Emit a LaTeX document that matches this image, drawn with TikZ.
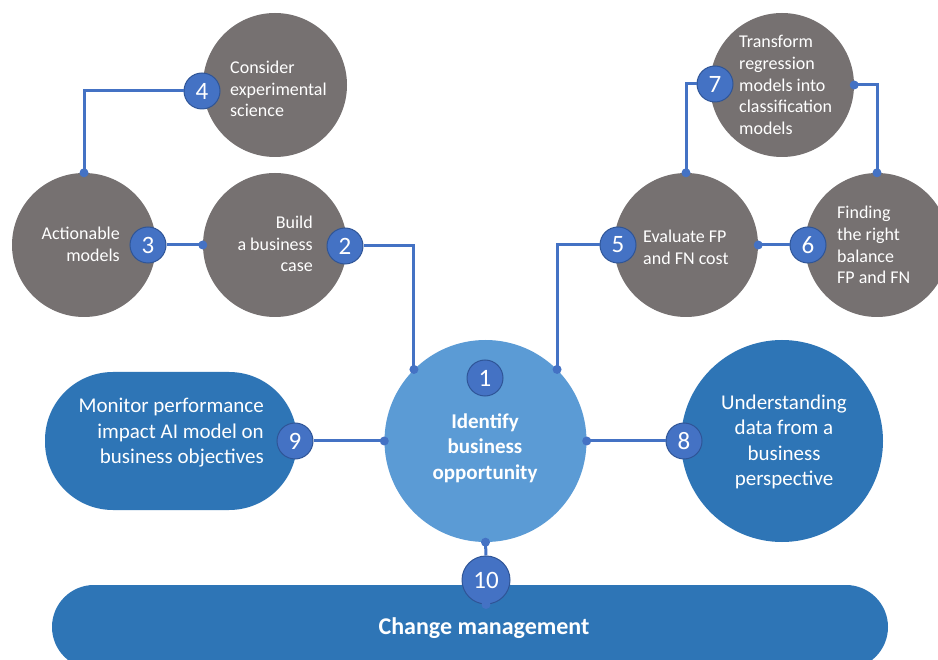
\documentclass[tikz,border=0pt]{standalone}
\usepackage{fontspec}
\setmainfont{Carlito}
\begin{document}
\begin{tikzpicture}[x=1pt,y=-1pt,
  graycirc/.style={circle,fill=cgray,minimum size=144pt,inner sep=0pt},
  bigcirc/.style={circle,minimum size=202pt,inner sep=0pt},
  badge/.style={circle,fill=cbadge,draw=cborder,line width=1pt,minimum size=36pt,inner sep=0pt,text=white,font=\fontsize{25}{26}\selectfont},
  conn/.style={draw=cline,line width=3pt},
  dot/.style={fill=cline},
  gtext/.style={text=white,inner sep=0pt,font=\fontsize{18}{21.7}\selectfont},
  btext/.style={text=white,inner sep=0pt,font=\fontsize{21}{25.5}\selectfont}]
\definecolor{cgray}{HTML}{767171}
\definecolor{clight}{HTML}{5B9BD5}
\definecolor{cdark}{HTML}{2E75B6}
\definecolor{cbadge}{HTML}{4472C4}
\definecolor{cborder}{HTML}{2F5597}
\definecolor{cline}{HTML}{4472C4}
\useasboundingbox (0,0) rectangle (938,660);
\clip (0,0) rectangle (938,660);
\fill[white] (0,0) rectangle (938,660);
% shapes
\node[graycirc] (c4) at (275,85) {};
\node[graycirc] (c3) at (84,245) {};
\node[graycirc] (c2) at (275,245) {};
\node[graycirc] (c7) at (782,85) {};
\node[graycirc] (c5) at (686,245) {};
\node[graycirc] (c6) at (877,245) {};
\node[bigcirc,fill=clight] (c1) at (485.5,441) {};
\node[bigcirc,fill=cdark] (c8) at (782,441) {};
\node[rectangle,rounded corners=68pt,fill=cdark,minimum width=252pt,minimum height=138pt,inner sep=0pt] (c9) at (171,441) {};
\node[rectangle,rounded corners=42pt,fill=cdark,minimum width=836pt,minimum height=84pt,inner sep=0pt] (bar) at (470,627) {};
% texts
\node[gtext,anchor=west,align=left] (t4) at (230,89) {Consider\\experimental\\science};
\node[gtext,anchor=east,align=right] (t3) at (120,244) {Actionable\\models};
\node[gtext,anchor=east,align=right] (t2) at (313,244) {Build\\a business\\case};
\node[gtext,anchor=west,align=left] (t7) at (739,85) {Transform\\regression\\models into\\classification\\models};
\node[gtext,anchor=west,align=left] (t5) at (643,247) {Evaluate FP\\and FN cost};
\node[gtext,anchor=west,align=left] (t6) at (837,245) {Finding\\the right\\balance\\FP and FN};
\node[btext,anchor=east,align=right] (t9) at (264,433) {Monitor performance\\impact AI model on\\business objectives};
\node[btext,align=center] (t8) at (784,442) {Understanding\\data from a\\business\\perspective};
\node[btext,align=center,font=\fontsize{21}{25.5}\selectfont\bfseries] (t1) at (485,448) {Identify\\business\\opportunity};
\node[text=white,inner sep=0pt,font=\fontsize{24}{28}\selectfont\bfseries] (tbar) at (484,628) {Change management};
% badges
\node[badge] (b1) at (485,378) {1};
\node[badge] (b2) at (345,246) {2};
\node[badge] (b3) at (148,245) {3};
\node[badge] (b4) at (202,91) {4};
\node[badge] (b5) at (618,245) {5};
\node[badge] (b6) at (808,245) {6};
\node[badge] (b7) at (715,84) {7};
\node[badge] (b8) at (684,441) {8};
\node[badge] (b9) at (295,441) {9};
\node[badge,minimum size=48pt] (b10) at (486,580) {10};
% connectors
\draw[conn] (b4.west) -| (c3.north);
\draw[conn] (b3.east) -- (c2.west);
\draw[conn] (b2.east) -| (c1.135);
\draw[conn] (b5.west) -| (c1.45);
\draw[conn] (c5.east) -- (b6.west);
\draw[conn] (c5.north) |- (b7.west);
\draw[conn] (c7.east) -| (c6.north);
\draw[conn] (b9.east) -- (c1.west);
\draw[conn] (c1.east) -- (b8.west);
\draw[conn] (c1.south) -- (b10.north);
% dots
\foreach \p in {c3.north,c2.west,c1.135,c1.45,c5.east,c5.north,c7.east,c6.north,c1.west,c1.east,c1.south,b10.south}
  \fill[dot] (\p) circle (4.5pt);
\end{tikzpicture}
\end{document}
